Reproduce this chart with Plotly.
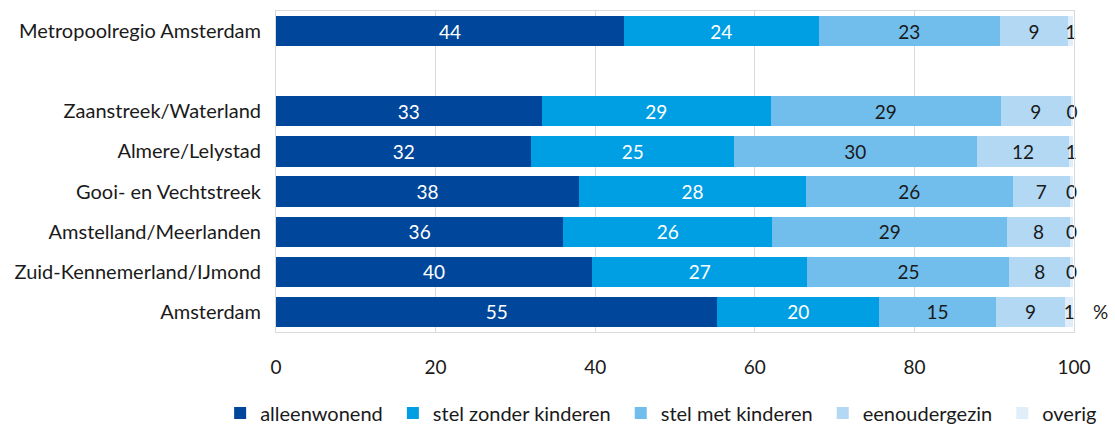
import plotly.graph_objects as go

# Regions (top to bottom); an empty slot separates the metropolitan total from its parts
regions = ["Metropoolregio Amsterdam", "Zaanstreek/Waterland", "Almere/Lelystad",
           "Gooi- en Vechtstreek", "Amstelland/Meerlanden", "Zuid-Kennemerland/IJmond",
           "Amsterdam"]
row_pos = [0, 2, 3, 4, 5, 6, 7]

# Household composition, % of households
series_names = ["alleenwonend", "stel zonder kinderen", "stel met kinderen",
                "eenoudergezin", "overig"]
alleenwonend = [43.6, 33.3, 32.0, 38.0, 36.0, 39.6, 55.3]
stel_zonder_kinderen = [24.4, 28.7, 25.4, 28.4, 26.2, 27.0, 20.3]
stel_met_kinderen = [22.7, 28.8, 30.4, 25.9, 29.4, 25.3, 14.6]
eenoudergezin = [8.6, 8.8, 11.6, 7.2, 7.9, 7.6, 8.7]
overig = [0.6, 0.3, 0.5, 0.4, 0.4, 0.4, 1.0]

x_ticks = [0, 20, 40, 60, 80, 100]

colors = ["#00479B", "#009FE3", "#71BDEB", "#B2D8F3", "#E0EEF9"]
label_colors = ["#FFFFFF", "#FFFFFF", "#1A1A1A", "#1A1A1A", "#1A1A1A"]
FONT = "Lato, Calibri, Arial, sans-serif"
NBSP = "\u00a0"

fig = go.Figure()
for name, vals, col, tcol in zip(series_names,
                                 [alleenwonend, stel_zonder_kinderen, stel_met_kinderen,
                                  eenoudergezin, overig],
                                 colors, label_colors):
    fig.add_trace(go.Bar(
        name=name + NBSP, x=vals, y=row_pos, orientation="h",
        marker=dict(color=col, line=dict(width=0)),
        texttemplate="%{x:.0f}", textposition="inside", insidetextanchor="middle",
        constraintext="none", textangle=0,
        textfont=dict(family=FONT, size=19, color=tcol),
        cliponaxis=False, hovertemplate=name + ": %{x}<extra></extra>",
    ))

fig.add_annotation(x=1.033, xref="paper", y=7, yref="y", text="%", showarrow=False,
                   xanchor="center", yanchor="middle",
                   font=dict(family=FONT, size=19, color="#1A1A1A"))

fig.update_layout(
    barmode="stack", bargap=0.245,
    width=1115, height=425,
    margin=dict(l=276, r=41, t=11, b=93, pad=0, autoexpand=False),
    paper_bgcolor="white", plot_bgcolor="white",
    font=dict(family=FONT, size=19, color="#1A1A1A"),
    legend=dict(orientation="h", x=-0.07, xanchor="left", y=-0.252, yanchor="middle",
                font=dict(family=FONT, size=20, color="#1A1A1A"),
                traceorder="normal", itemclick=False, itemdoubleclick=False),
    xaxis=dict(range=[0, 100], tickvals=x_ticks, ticktext=[str(t) for t in x_ticks],
               showgrid=True, gridcolor="#D9D9D9", gridwidth=1, zeroline=False,
               showline=True, linecolor="#D9D9D9", linewidth=1, mirror=True,
               ticks="", ticklabelstandoff=18,
               tickfont=dict(family=FONT, size=19, color="#1A1A1A")),
    yaxis=dict(range=[7.5, -0.5], tickvals=row_pos, ticktext=regions,
               showgrid=False, zeroline=False,
               showline=True, linecolor="#D9D9D9", linewidth=1, mirror=True,
               ticks="", ticklabelstandoff=10,
               tickfont=dict(family=FONT, size=20, color="#1A1A1A")),
)

fig.write_html("out.html")
